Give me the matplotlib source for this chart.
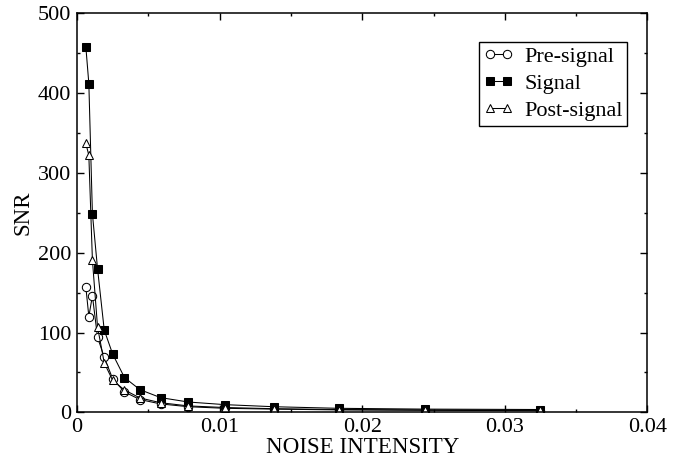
import matplotlib
matplotlib.use("Agg")
import matplotlib.pyplot as plt
from matplotlib.ticker import MultipleLocator

plt.rcParams['font.family'] = ['Liberation Serif', 'DejaVu Serif']

noise = [0.00062, 0.00083, 0.00108, 0.00144, 0.00191, 0.00250, 0.00333, 0.00441,
         0.00586, 0.00780, 0.01037, 0.01379, 0.01834, 0.02439, 0.03244]
pre_signal = [157, 120, 146, 94, 69, 42, 25.5, 16, 10.5, 7, 5, 4, 3, 2.5, 2]
signal = [458, 412, 249, 180, 103, 73, 43.5, 28.4, 18.4, 12.9, 9.6, 7, 5, 4, 3.5]
post_signal = [337, 322, 191, 107, 62, 40, 28, 18, 12, 8, 6, 4.5, 3.5, 3, 2.5]
xticks = [0, 0.01, 0.02, 0.03, 0.04]
xticklabels = ['0', '0.01', '0.02', '0.03', '0.04']

fig = plt.figure(figsize=(6.85, 4.59), dpi=100)
ax = fig.add_axes([77 / 685, 1 - 412.3 / 459, 570.5 / 685, 399 / 459])

ax.plot(noise, pre_signal, '-o', color='black', lw=0.75, ms=6, mfc='white', mec='black', mew=0.75, label='Pre-signal')
ax.plot(noise, signal, '-s', color='black', lw=0.75, ms=5.6, mfc='black', mec='black', mew=0.75, label='Signal')
ax.plot(noise, post_signal, '-^', color='black', lw=0.75, ms=6, mfc='white', mec='black', mew=0.75, label='Post-signal')

ax.set_xlim(0, 0.04)
ax.set_ylim(0, 500)
ax.set_xticks(xticks)
ax.set_xticklabels(xticklabels)
ax.xaxis.set_minor_locator(MultipleLocator(0.005))
ax.yaxis.set_major_locator(MultipleLocator(100))
ax.yaxis.set_minor_locator(MultipleLocator(50))
ax.tick_params(which='both', direction='in', top=True, right=True, labelsize=16, width=1)
ax.tick_params(which='major', length=5, pad=4)
ax.tick_params(which='minor', length=2.5)
for s in ax.spines.values():
    s.set_linewidth(1.1)

ax.set_xlabel('NOISE INTENSITY', fontsize=16.6, labelpad=0)
ax.set_ylabel('SNR', fontsize=16.5, labelpad=3)

leg = ax.legend(loc='upper right', bbox_to_anchor=(0.964, 0.929), borderaxespad=0,
                numpoints=2, fontsize=16, fancybox=False, edgecolor='black', framealpha=1,
                handlelength=1.36, handletextpad=0.45, borderpad=0.2, labelspacing=0.3)
leg.get_frame().set_linewidth(1.0)

fig.savefig('out.png', dpi=100)
